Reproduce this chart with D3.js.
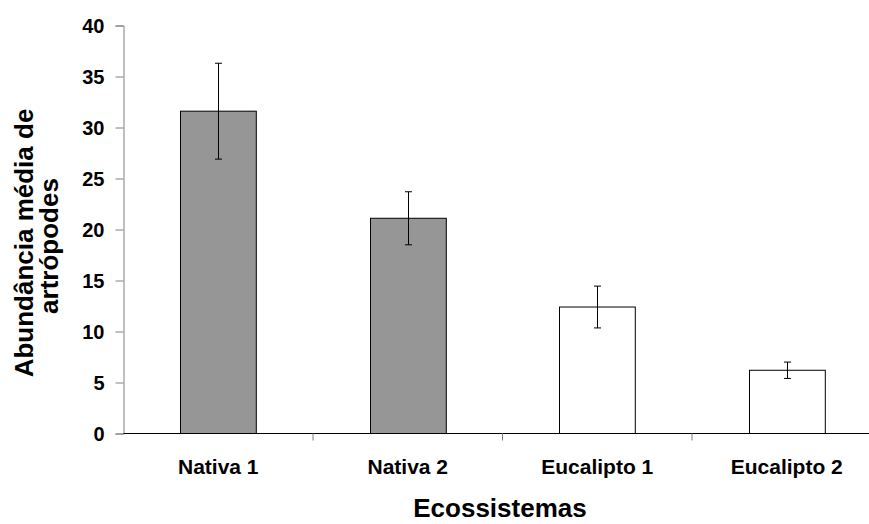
<!DOCTYPE html>
<meta charset="utf-8">
<style>
    body { margin: 0; background: #fff; }
    text { font-family: Arial, "Liberation Sans", sans-serif; font-weight: bold; fill: #000; }
</style>
<script src="https://d3js.org/d3.v7.min.js"></script>
<body>
<script>

    // data
    var categories = ["Nativa 1", "Nativa 2", "Eucalipto 1", "Eucalipto 2"]
    var means = [31.6, 21.1, 12.4, 6.2]
    var errors = [4.7, 2.6, 2.05, 0.8]
    var fills = ["#969696", "#969696", "#ffffff", "#ffffff"]
    var yTicks = [0, 5, 10, 15, 20, 25, 30, 35, 40]

    var width = 869
    var height = 524

    var svg = d3.select("body")
        .append("svg")
        .attr("width", width)
        .attr("height", height)

    var x = d3.scaleBand()
        .domain(categories)
        .range([123.5, 881.5])
        .paddingInner(0.6)
        .paddingOuter(0.3)

    var y = d3.scaleLinear()
        .domain([0, 40])
        .range([433.5, 25.5])

    // y axis
    var yAxis = svg.append("g")
        .attr("transform", "translate(123.5,0)")
        .call(d3.axisLeft(y).tickValues(yTicks).tickSize(8).tickPadding(11))
    yAxis.select(".domain").attr("stroke", "#808080")
    yAxis.selectAll(".tick line").attr("stroke", "#808080")
    yAxis.selectAll(".tick text")
        .style("font-size", "20px")
        .attr("dy", "0.36em")

    // x axis line and category boundary ticks
    var step = x.step()
    var x0 = x.range()[0]
    svg.append("line")
        .attr("x1", x0).attr("x2", x.range()[1])
        .attr("y1", y(0)).attr("y2", y(0))
        .attr("stroke", "#000")
    d3.range(1, categories.length + 1).forEach(function (i) {
        svg.append("line")
            .attr("x1", x0 + i * step).attr("x2", x0 + i * step)
            .attr("y1", y(0)).attr("y2", y(0) + 7)
            .attr("stroke", "#808080")
    })

    // bars
    svg.selectAll("rect.bar")
        .data(categories)
        .enter()
        .append("rect")
        .attr("class", "bar")
        .attr("x", function (d) { return Math.round(x(d)) + 0.5 })
        .attr("width", x.bandwidth())
        .attr("y", function (d, i) { return y(means[i]) })
        .attr("height", function (d, i) { return y(0) - y(means[i]) })
        .attr("fill", function (d, i) { return fills[i] })
        .attr("stroke", "#000")
        .attr("stroke-width", 1)

    // error bars
    var cap = 3.5
    categories.forEach(function (c, i) {
        var cx = Math.round(x(c) + x.bandwidth() / 2) + 0.5
        var top = y(means[i] + errors[i])
        var bot = y(means[i] - errors[i])
        var g = svg.append("g").attr("stroke", "#000")
        g.append("line").attr("x1", cx).attr("x2", cx).attr("y1", top).attr("y2", bot)
        g.append("line").attr("x1", cx - cap).attr("x2", cx + cap).attr("y1", top).attr("y2", top)
        g.append("line").attr("x1", cx - cap).attr("x2", cx + cap).attr("y1", bot).attr("y2", bot)
    })

    // category labels
    svg.selectAll("text.cat")
        .data(categories)
        .enter()
        .append("text")
        .attr("class", "cat")
        .text(function (d) { return d })
        .attr("x", function (d) { return x(d) + x.bandwidth() / 2 })
        .attr("y", 474)
        .attr("text-anchor", "middle")
        .attr("font-size", "21px")

    // axis titles
    svg.append("text")
        .text("Ecossistemas")
        .attr("x", 500)
        .attr("y", 517)
        .attr("text-anchor", "middle")
        .attr("font-size", "26px")

    svg.append("text")
        .text("Abundância média de")
        .attr("transform", "translate(33,243) rotate(-90)")
        .attr("text-anchor", "middle")
        .attr("font-size", "26px")

    svg.append("text")
        .text("artrópodes")
        .attr("transform", "translate(58,246) rotate(-90)")
        .attr("text-anchor", "middle")
        .attr("font-size", "26px")

</script>
